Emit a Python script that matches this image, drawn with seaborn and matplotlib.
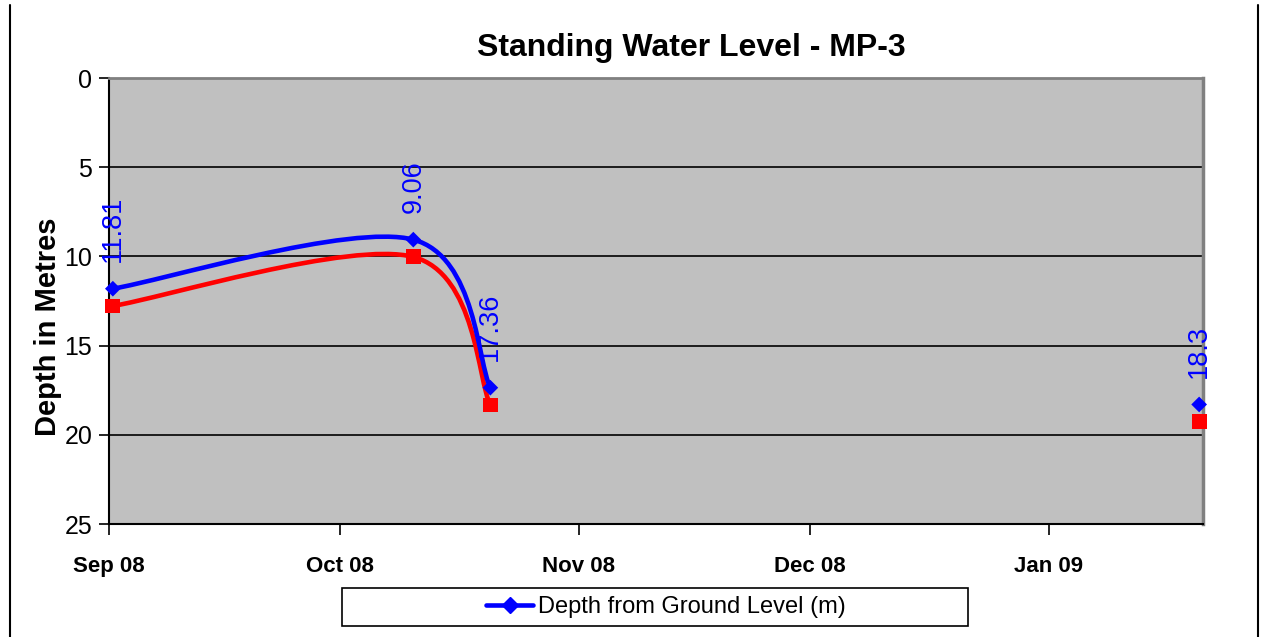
import matplotlib
matplotlib.use("Agg")
import matplotlib.pyplot as plt
import matplotlib.dates as mdates
from matplotlib.path import Path
from matplotlib.patches import PathPatch, Rectangle
from matplotlib.lines import Line2D
import pandas as pd
import seaborn as sns

# readings (depth in metres, measured downwards)
dates = ["2008-09-01", "2008-10-10", "2008-10-20", "2009-01-20"]
ground_level = [11.81, 9.06, 17.36, 18.3]
second_series = [12.78, 10.03, 18.33, 19.27]
# which readings are joined by a line (the last one stands alone)
connected = [[0, 1, 2], [3]]

title = "Standing Water Level - MP-3"
y_label = "Depth in Metres"
legend_label = "Depth from Ground Level (m)"
month_ticks = ["2008-09-01", "2008-10-01", "2008-11-01", "2008-12-01", "2009-01-01"]
month_labels = ["Sep 08", "Oct 08", "Nov 08", "Dec 08", "Jan 09"]

df = pd.DataFrame({"date": pd.to_datetime(dates), "ground": ground_level, "second": second_series})
# excel puts each point in the middle of its day
df["pos"] = mdates.date2num(df["date"]) + 0.5


def smooth_path(xs, ys):
    # excel-style smoothed line: catmull-rom turned into cubic bezier pieces
    pts = list(zip(xs, ys))
    n = len(pts)
    verts = [pts[0]]
    codes = [Path.MOVETO]
    for i in range(n - 1):
        p0 = pts[i - 1] if i > 0 else pts[i]
        p1 = pts[i]
        p2 = pts[i + 1]
        p3 = pts[i + 2] if i + 2 < n else pts[i + 1]
        c1 = (p1[0] + (p2[0] - p0[0]) / 6, p1[1] + (p2[1] - p0[1]) / 6)
        c2 = (p2[0] - (p3[0] - p1[0]) / 6, p2[1] - (p3[1] - p1[1]) / 6)
        verts += [c1, c2, p2]
        codes += [Path.CURVE4] * 3
    return Path(verts, codes)


sns.set_style("white", {"text.color": "black", "xtick.color": "black", "ytick.color": "black",
                        "axes.labelcolor": "black"})
plt.rcParams["font.family"] = ["Liberation Sans", "DejaVu Sans"]

fig = plt.figure(figsize=(12.69, 6.37), dpi=100)
ax = fig.add_axes([109 / 1269, 1 - 524 / 637, (1203 - 109) / 1269, (524 - 78) / 637])
ax.set_facecolor("#C0C0C0")

for col, color in [("second", "#FF0000"), ("ground", "#0000FF")]:
    for grp in connected:
        if len(grp) > 1:
            path = smooth_path([df["pos"][i] for i in grp], [df[col][i] for i in grp])
            ax.add_patch(PathPatch(path, facecolor="none", edgecolor=color, lw=3.3, zorder=3,
                                   clip_on=False))

sns.scatterplot(x="pos", y="second", data=df, ax=ax, marker="s", s=115, color="#FF0000",
                edgecolor="none", zorder=4, legend=False, clip_on=False)
sns.scatterplot(x="pos", y="ground", data=df, ax=ax, marker="D", s=64, color="#0000FF",
                edgecolor="none", zorder=5, legend=False, clip_on=False)

for p, v in zip(df["pos"], df["ground"]):
    ax.annotate(f"{v:g}", (p, v), xytext=(0, 19), textcoords="offset points",
                rotation=90, ha="center", va="bottom", color="#0000FF", fontsize=19.5, zorder=6)

ax.set_xlim(mdates.date2num(pd.Timestamp("2008-09-01")), mdates.date2num(pd.Timestamp("2009-01-21")))
ax.set_ylim(25, 0)
ax.set_yticks([0, 5, 10, 15, 20, 25])
ax.set_xticks(mdates.date2num(pd.to_datetime(month_ticks)))
ax.set_xticklabels(month_labels, fontsize=16, fontweight="bold")
ax.tick_params(axis="y", labelsize=18, length=7, width=1.2, color="black", direction="out", pad=5, left=True)
ax.tick_params(axis="x", length=8, width=1.2, color="black", direction="out", pad=15, bottom=True)
ax.set_xlabel("")
ax.set_ylabel("")
for yv in [5, 10, 15, 20]:
    ax.axhline(yv, color="black", lw=1.2, zorder=1)

ax.spines["left"].set_color("black")
ax.spines["bottom"].set_color("black")
ax.spines["left"].set_linewidth(1.5)
ax.spines["bottom"].set_linewidth(1.5)
ax.spines["top"].set_color("#808080")
ax.spines["right"].set_color("#808080")
ax.spines["top"].set_linewidth(2)
ax.spines["right"].set_linewidth(2.5)

fig.text(691 / 1269, 1 - 48 / 637, title, ha="center", va="center", fontsize=23, fontweight="bold")
fig.text(48 / 1269, 1 - 327 / 637, y_label, ha="center", va="center", rotation=90,
         fontsize=21, fontweight="bold")

# chart frame (left and right edges only show)
fig.add_artist(Line2D([10 / 1269, 10 / 1269], [0, 1 - 5 / 637], transform=fig.transFigure, color="black", lw=1.5))
fig.add_artist(Line2D([1258 / 1269, 1258 / 1269], [0, 1 - 5 / 637], transform=fig.transFigure, color="black", lw=1.5))

# legend box
fig.add_artist(Rectangle((342 / 1269, 1 - 626 / 637), (968 - 342) / 1269, (626 - 588) / 637,
                         transform=fig.transFigure, facecolor="white", edgecolor="black", lw=1.2))
handle = Line2D([], [], color="#0000FF", lw=3.3, marker="D", markersize=8)
fig.legend([handle], [legend_label], loc="center", bbox_to_anchor=(666 / 1269, 1 - 607 / 637),
           frameon=False, fontsize=17, handlelength=2.0, handletextpad=0.2)

plt.savefig("out.png", dpi=100)
